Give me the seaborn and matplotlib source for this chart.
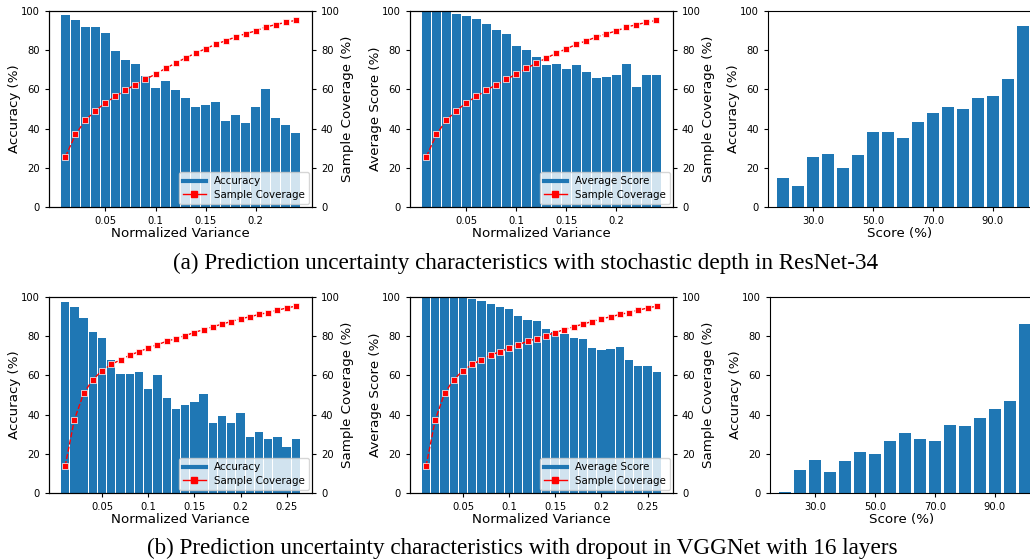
import matplotlib
matplotlib.use("Agg")
import pandas as pd
import seaborn as sns
import matplotlib.pyplot as plt
from matplotlib.lines import Line2D

# ---- data ----
# (a) ResNet-34, stochastic depth
var_a = [0.01, 0.02, 0.03, 0.04, 0.05, 0.06, 0.07, 0.08, 0.09, 0.10, 0.11, 0.12,
         0.13, 0.14, 0.15, 0.16, 0.17, 0.18, 0.19, 0.20, 0.21, 0.22, 0.23, 0.24]
acc_a = [98.0, 95.4, 91.8, 91.8, 88.8, 79.6, 75.0, 72.9, 66.8, 60.6, 64.2, 59.6,
         55.5, 50.9, 52.0, 53.5, 43.8, 46.8, 42.8, 50.9, 60.1, 45.3, 41.7, 37.6]
score_a = [100.0, 100.0, 100.0, 98.5, 97.4, 95.9, 93.4, 90.3, 88.2, 82.1, 80.1, 76.5,
           72.4, 72.9, 70.4, 72.4, 68.8, 65.8, 66.3, 67.3, 72.9, 61.2, 67.3, 67.3]
cov_a = [25.7, 37.0, 44.3, 49.1, 53.2, 56.4, 59.6, 62.4, 65.1, 67.8, 70.7, 73.4,
         76.0, 78.5, 80.7, 83.0, 84.8, 86.7, 88.4, 89.8, 91.8, 93.0, 94.2, 95.2]

# (b) VGGNet-16, dropout
var_b = [0.01, 0.02, 0.03, 0.04, 0.05, 0.06, 0.07, 0.08, 0.09, 0.10, 0.11, 0.12, 0.13,
         0.14, 0.15, 0.16, 0.17, 0.18, 0.19, 0.20, 0.21, 0.22, 0.23, 0.24, 0.25, 0.26]
acc_b = [97.3, 94.7, 89.1, 82.4, 79.3, 68.0, 60.9, 60.9, 61.9, 53.2, 60.3, 48.5, 42.9,
         45.0, 46.5, 50.6, 35.7, 39.3, 35.7, 40.9, 28.5, 31.1, 27.5, 28.5, 23.4, 27.5]
score_b = [100.0, 100.0, 100.0, 100.0, 99.5, 98.8, 97.8, 96.2, 94.7, 93.7, 90.1, 88.5, 88.0,
           83.9, 82.4, 80.9, 79.3, 78.8, 74.2, 73.2, 73.7, 74.7, 68.0, 65.0, 65.0, 61.9]
cov_b = [13.7, 37.4, 50.8, 57.9, 62.4, 65.6, 68.0, 70.3, 72.1, 74.0, 75.7, 77.4, 78.8,
         80.3, 81.9, 83.4, 84.8, 86.2, 87.5, 88.9, 89.9, 91.1, 92.1, 93.3, 94.4, 95.4]

# accuracy by score bin
score_bins = [20, 25, 30, 35, 40, 45, 50, 55, 60, 65, 70, 75, 80, 85, 90, 95, 100]
bin_acc_a = [15.0, 10.5, 25.7, 27.2, 20.0, 26.7, 38.5, 38.5, 35.0, 43.5, 48.0, 51.2,
             50.2, 55.8, 56.8, 65.5, 92.5]
bin_acc_b = [0.3, 11.7, 16.8, 10.7, 16.3, 20.8, 19.8, 26.4, 30.5, 27.5, 26.4, 34.7,
             34.1, 38.2, 42.8, 47.0, 86.2]

var_ticks_a = [0.05, 0.1, 0.15, 0.2]
var_ticks_b = [0.05, 0.1, 0.15, 0.2, 0.25]
score_ticks = [30.0, 50.0, 70.0, 90.0]

captions = [
    "(a) Prediction uncertainty characteristics with stochastic depth in ResNet-34",
    "(b) Prediction uncertainty characteristics with dropout in VGGNet with 16 layers",
]

BLUE = "#1f77b4"
TICK_FS = 7.2
LABEL_FS = 9.6
LEGEND_FS = 7.4

plt.rcParams["font.family"] = ["DejaVu Sans"]
plt.rcParams["xtick.labelsize"] = TICK_FS
plt.rcParams["ytick.labelsize"] = TICK_FS
plt.rcParams["xtick.major.size"] = 3
plt.rcParams["ytick.major.size"] = 3


def variance_panel(ax, var, bars, cov, bar_label, ticks):
    df = pd.DataFrame({"var": var, "bar": bars, "cov": cov})
    sns.barplot(data=df, x="var", y="bar", native_scale=True, width=0.9,
                color=BLUE, saturation=1, linewidth=0, ax=ax)
    ax.set_ylim(0, 100)
    ax.set_xticks(ticks)
    ax.set_xticklabels([f"{t:g}" for t in ticks])
    ax.set_xlabel("Normalized Variance", fontsize=LABEL_FS, labelpad=1)
    ax.set_ylabel(bar_label, fontsize=LABEL_FS, labelpad=0)

    ax2 = ax.twinx()
    sns.lineplot(data=df, x="var", y="cov", color="red", marker="s",
                 markersize=4, markeredgewidth=0.5, linestyle="--",
                 linewidth=1, ax=ax2)
    ax2.set_ylim(0, 100)
    ax2.set_ylabel("Sample Coverage (%)", fontsize=LABEL_FS, labelpad=1)

    handles = [Line2D([], [], color=BLUE, lw=3),
               Line2D([], [], color="red", lw=1, marker="s", markersize=5)]
    ax2.legend(handles, [bar_label.replace(" (%)", ""), "Sample Coverage"],
               loc="lower right", fontsize=LEGEND_FS, borderpad=0.4,
               labelspacing=0.35, handlelength=2.2, borderaxespad=0.3)


def score_panel(ax, bins, accs):
    df = pd.DataFrame({"score": bins, "acc": accs})
    sns.barplot(data=df, x="score", y="acc", native_scale=True, width=0.8,
                color=BLUE, saturation=1, linewidth=0, ax=ax)
    ax.set_ylim(0, 100)
    ax.set_xlim(15, 102.7)
    ax.set_xticks(score_ticks)
    ax.set_xticklabels([f"{t:.1f}" for t in score_ticks])
    ax.set_xlabel("Score (%)", fontsize=LABEL_FS, labelpad=1)
    ax.set_ylabel("Accuracy (%)", fontsize=LABEL_FS, labelpad=0)


fig = plt.figure(figsize=(10.3, 5.6), dpi=100)

w = 0.2553
h = 0.35
row_y = [0.6304, 0.1196]
col_x = [0.0476, 0.398, 0.7456]

ax = fig.add_axes([col_x[0], row_y[0], w, h])
variance_panel(ax, var_a, acc_a, cov_a, "Accuracy (%)", var_ticks_a)
ax = fig.add_axes([col_x[1], row_y[0], w, h])
variance_panel(ax, var_a, score_a, cov_a, "Average Score (%)", var_ticks_a)
ax = fig.add_axes([col_x[2], row_y[0], w, h])
score_panel(ax, score_bins, bin_acc_a)

ax = fig.add_axes([col_x[0], row_y[1], w, h])
variance_panel(ax, var_b, acc_b, cov_b, "Accuracy (%)", var_ticks_b)
ax = fig.add_axes([col_x[1], row_y[1], w, h])
variance_panel(ax, var_b, score_b, cov_b, "Average Score (%)", var_ticks_b)
ax = fig.add_axes([0.7476, row_y[1], w, h])
score_panel(ax, score_bins, bin_acc_b)

fig.text(0.51, 0.530, captions[0], ha="center", va="center",
         family=["Liberation Serif", "DejaVu Serif"], fontsize=16.7)
fig.text(0.507, 0.021, captions[1], ha="center", va="center",
         family=["Liberation Serif", "DejaVu Serif"], fontsize=16.7)

fig.savefig("out.png", dpi=100)
